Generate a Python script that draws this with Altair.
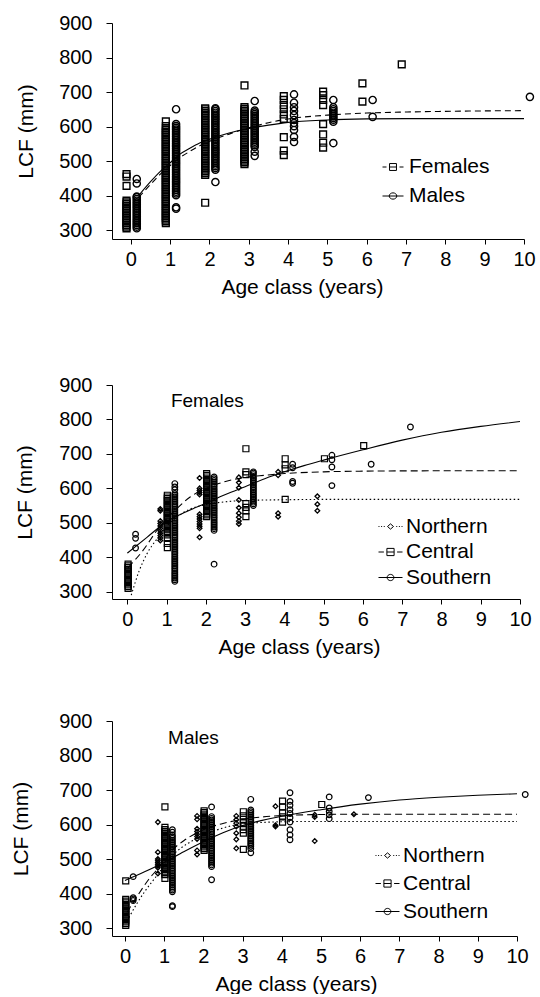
import altair as alt
import pandas as pd

FONT = "Liberation Sans"

# ---------------- Panel 1: LCF by age class, females vs males ----------------
sex_groups = ["Females", "Males"]
sex_offset = {"Females": -0.11, "Males": 0.15}

fem_pts = {
    0: [462, 455, 428, 305, 310, 315, 320, 325, 330, 335, 340, 345, 350, 355, 360, 365, 370, 375, 380, 385],
    1: [615, 601, 320, 325, 330, 335, 340, 345, 350, 355, 360, 365, 370, 375, 380, 385, 390, 395, 400, 405,
        410, 415, 420, 425, 430, 435, 440, 445, 450, 455, 460, 465, 470, 475, 480, 485, 490, 495, 500, 505,
        510, 515, 520, 525, 530, 535, 540, 545, 550, 555, 560, 565, 570, 575, 580, 585, 590, 595],
    2: [379, 460, 465, 470, 475, 480, 485, 490, 495, 500, 505, 510, 515, 520, 525, 530, 535, 540, 545, 550,
        555, 560, 565, 570, 575, 580, 585, 590, 595, 600, 605, 610, 615, 620, 625, 630, 635, 640, 645, 650, 653],
    3: [719, 491, 496, 501, 506, 511, 516, 521, 526, 531, 536, 541, 546, 551, 556, 561, 566, 571, 576, 581,
        586, 591, 596, 601, 606, 611, 616, 621, 626, 631, 636, 641, 646, 651, 656],
    4: [688, 677, 662, 650, 635, 622, 569, 530, 517],
    5: [701, 691, 677, 662, 607, 577, 553, 539],
    6: [725, 672],
    7: [780],
}
male_pts = {
    0: [448, 435, 305, 310, 315, 320, 325, 330, 335, 340, 345, 350, 355, 360, 365, 370, 375, 380, 385, 390, 395, 397],
    1: [650, 607, 366, 362, 401, 406, 411, 416, 421, 426, 431, 436, 441, 446, 451, 456, 461, 466, 471, 476,
        481, 486, 491, 496, 501, 506, 511, 516, 521, 526, 531, 536, 541, 546, 551, 556, 561, 566, 571, 576,
        581, 586, 591, 596, 601],
    2: [439, 475, 480, 485, 490, 495, 500, 505, 510, 515, 520, 525, 530, 535, 540, 545, 550, 555, 560, 565,
        570, 575, 580, 585, 590, 595, 600, 605, 610, 615, 620, 625, 630, 635, 640, 645, 650, 653],
    3: [674, 527, 515, 541, 546, 551, 556, 561, 566, 571, 576, 581, 586, 591, 596, 601, 606, 611, 616, 621,
        626, 631, 636, 641, 646],
    4: [693, 669, 656, 645, 633, 619, 610, 601, 590, 570, 555],
    5: [677, 656, 650, 645, 640, 635, 630, 625, 620, 614, 552],
    6: [677, 628],
    10: [686],
}
fem_curve_age = [0.2, 0.5, 0.75, 1, 1.25, 1.5, 1.75, 2, 2.5, 3, 3.5, 4, 5, 6, 7, 8, 10]
fem_curve_lcf = [395, 432, 462, 487, 510, 528, 544, 557, 578, 596, 611, 622, 633, 639, 642, 644, 646]
male_curve_age = [0.2, 0.5, 0.75, 1, 1.25, 1.5, 1.75, 2, 2.5, 3, 3.5, 4, 5, 6, 7, 10]
male_curve_lcf = [400, 440, 470, 495, 520, 537, 552, 563, 581, 594, 604, 612, 619, 622, 623, 623]

# ---------------- Panels 2 & 3: by region ----------------
reg_groups = ["Northern", "Central", "Southern"]
reg_offset = {"Northern": -0.16, "Central": 0.02, "Southern": 0.21}

# Females by region
fn_pts = {
    1: [540, 535, 505, 498, 491, 484, 477, 470, 463, 456, 449],
    2: [630, 600, 594, 588, 582, 525, 518, 511, 504, 497, 490, 484, 458],
    3: [632, 617, 602, 566, 544, 528, 516, 505, 497],
    4: [648, 638, 528, 518],
    5: [577, 554, 535],
}
fc_pts = {
    0: [310, 315, 320, 325, 330, 335, 340, 345, 350, 355, 360, 365, 370, 375, 380],
    1: [455, 440, 428, 465, 470, 475, 480, 485, 490, 495, 500, 505, 510, 515, 520, 525, 530, 535, 540, 545,
        550, 555, 560, 565, 570, 575, 580],
    2: [518, 523, 528, 533, 538, 543, 548, 553, 558, 563, 568, 573, 578, 583, 588, 593, 598, 603, 608, 613,
        618, 623, 628, 633, 638, 643],
    3: [715, 648, 640, 556, 545, 535, 518],
    4: [686, 668, 657, 568],
    5: [686],
    6: [724],
}
fs_pts = {
    0: [467, 455, 427],
    1: [614, 604, 596, 330, 335, 340, 345, 350, 355, 360, 365, 370, 375, 380, 385, 390, 395, 400, 405, 410,
        415, 420, 425, 430, 435, 440, 445, 450, 455, 460, 465, 470, 475, 480, 485, 490, 495, 500, 505, 510,
        515, 520, 525, 530, 535, 540, 545, 550, 555, 560, 565, 570, 575, 580, 585],
    2: [380, 478, 483, 488, 493, 498, 503, 508, 513, 518, 523, 528, 533, 538, 543, 548, 553, 558, 563, 568,
        573, 578, 583, 588, 593, 598, 603, 608, 613, 618, 623, 628, 633],
    3: [550, 555, 560, 565, 570, 575, 580, 585, 590, 595, 600, 605, 610, 615, 620, 625, 630, 635, 640, 645, 648],
    4: [670, 660, 620, 615],
    5: [696, 683, 662, 608],
    6: [670],
    7: [778],
}
fn_curve_age = [0.1, 0.3, 0.5, 0.8, 1.0, 1.3, 1.6, 2, 2.5, 3, 4, 5, 10]
fn_curve_lcf = [290, 360, 410, 460, 490, 520, 540, 553, 561, 565, 567, 568, 568]
fc_curve_age = [0.02, 0.4, 0.8, 1.25, 1.6, 2, 2.5, 3, 3.5, 4, 5, 6, 8, 10]
fc_curve_lcf = [370, 420, 485, 540, 575, 600, 620, 632, 638, 643, 648, 650, 651, 651]
fs_curve_age = [0, 0.5, 1, 1.5, 2, 2.5, 3, 3.5, 4, 4.5, 5, 6, 7, 8, 9, 10]
fs_curve_lcf = [412, 458, 503, 532, 557, 582, 605, 628, 648, 666, 682, 712, 740, 763, 780, 794]

# Males by region
mn_pts = {
    1: [607, 520, 500, 495, 490, 485, 480, 475, 458],
    2: [625, 615, 588, 580, 572, 565, 558, 525, 513],
    3: [625, 614, 604, 594, 575, 557, 531],
    4: [653, 598, 594],
    5: [628, 622, 552],
    6: [630],
}
mc_pts = {
    0: [437, 308, 313, 318, 323, 328, 333, 338, 343, 348, 353, 358, 363, 368, 373, 378, 383],
    1: [651, 592, 444, 455, 460, 465, 470, 475, 480, 485, 490, 495, 500, 505, 510, 515, 520, 525, 530, 535,
        540, 545, 550, 555, 560, 565, 570, 575, 580, 585],
    2: [525, 530, 535, 540, 545, 550, 555, 560, 565, 570, 575, 580, 585, 590, 595, 600, 605, 610, 615, 620,
        625, 630, 635, 640],
    3: [637, 625, 615, 605, 595, 585, 575, 528],
    4: [668, 651, 634, 622, 607],
    5: [658],
}
ms_pts = {
    0: [449, 388, 384, 380],
    1: [585, 578, 365, 362, 405, 410, 415, 420, 425, 430, 435, 440, 445, 450, 455, 460, 465, 470, 475, 480,
        485, 490, 495, 500, 505, 510, 515, 520, 525, 530, 535, 540, 545, 550, 555, 560, 565, 570],
    2: [651, 440, 478, 483, 488, 493, 498, 503, 508, 513, 518, 523, 528, 533, 538, 543, 548, 553, 558, 563,
        568, 573, 578, 583, 588, 593, 598, 603, 608, 613, 618, 623],
    3: [673, 530, 518, 537, 542, 547, 552, 557, 562, 567, 572, 577, 582, 587, 592, 597, 602, 607, 612, 617,
        622, 627, 632, 637, 642],
    4: [692, 667, 656, 643, 632, 620, 607, 585, 570, 556],
    5: [680, 648, 638, 628, 617],
    6: [678],
    10: [687],
}
mn_curve_age = [0.1, 0.3, 0.5, 0.8, 1.0, 1.3, 1.6, 2, 2.5, 3, 3.5, 4, 5, 10]
mn_curve_lcf = [330, 370, 405, 450, 480, 520, 545, 568, 590, 602, 606, 608, 609, 609]
mc_curve_age = [0.05, 0.3, 0.6, 0.9, 1.2, 1.5, 2, 2.5, 3, 3.5, 4, 5, 6, 10]
mc_curve_lcf = [345, 390, 440, 480, 525, 553, 585, 603, 615, 622, 626, 629, 630, 630]
ms_curve_age = [0, 0.5, 1, 1.5, 2, 2.5, 3, 3.5, 4, 5, 6, 7, 8, 9, 10]
ms_curve_lcf = [438, 463, 490, 521, 550, 576, 597, 612, 624, 643, 659, 671, 679, 685, 689]

x_ticks = [0, 1, 2, 3, 4, 5, 6, 7, 8, 9, 10]
y_ticks = [300, 400, 500, 600, 700, 800, 900]


def pts_frame(series, offsets):
    rows = []
    for g, byage in series.items():
        for age, vals in byage.items():
            for v in vals:
                rows.append({"g": g, "age": age, "x": age + offsets[g], "v": v})
    return pd.DataFrame(rows)


def curve_frame(curves):
    rows = []
    for g, (ages, vals) in curves.items():
        for a, v in zip(ages, vals):
            rows.append({"g": g, "x": a, "v": v})
    return pd.DataFrame(rows)


def make_panel(pts_df, crv_df, groups, styles, legend_paths, leg, xdom, ydom, w, h,
               label=None, ytitle_pad=18, xtitle_x=190):
    xs = alt.Scale(domain=xdom, nice=False, zero=False)
    ys = alt.Scale(domain=ydom, nice=False, zero=False)
    ax_common = dict(labelFont=FONT, titleFont=FONT, labelFontSize=20, titleFontSize=21,
                     titleFontWeight="normal", labelColor="black", titleColor="black",
                     domainColor="black", tickColor="black", grid=False,
                     labelFlush=False, labelOverlap=False, format="d")
    xenc = alt.X("x:Q", scale=xs, axis=alt.Axis(
        values=x_ticks, title="Age class (years)", tickSize=5, labelPadding=5,
        titlePadding=7, titleX=xtitle_x, **ax_common))
    yenc = alt.Y("v:Q", scale=ys, axis=alt.Axis(
        values=y_ticks, title="LCF (mm)", tickSize=6, labelPadding=14,
        titlePadding=ytitle_pad, **ax_common))
    layers = []
    for g in groups:
        st = styles[g]
        layers.append(
            alt.Chart(pts_df[pts_df.g == g]).mark_point(
                shape=st["shape"], size=st["size"], filled=False, color="black",
                strokeWidth=st["sw"], opacity=1).encode(x=xenc, y=yenc))
    for g in groups:
        st = styles[g]
        kw = dict(color="black", strokeWidth=1.1, interpolate="monotone")
        if st["dash"] is not None:
            kw["strokeDash"] = st["dash"]
        layers.append(alt.Chart(crv_df[crv_df.g == g]).mark_line(**kw).encode(x=xenc, y=yenc))
    if label is not None:
        lab_df = pd.DataFrame({"x": [label[0]], "v": [label[1]], "t": [label[2]]})
        layers.append(alt.Chart(lab_df).mark_text(
            align="left", baseline="middle", font=FONT, fontSize=19, color="black").encode(
            x=xenc, y=yenc, text="t:N"))
    leg_df = pd.DataFrame({"g": groups})
    layers.append(alt.Chart(leg_df).mark_point(filled=False, color="black", opacity=0).encode(
        x=alt.value(0), y=alt.value(0),
        shape=alt.Shape("g:N", scale=alt.Scale(domain=groups, range=legend_paths),
                        legend=alt.Legend(
                            title=None, orient="none", legendX=leg["x"], legendY=leg["y"],
                            direction="vertical", labelFont=FONT, labelFontSize=21,
                            labelColor="black", symbolSize=leg["size"], symbolStrokeWidth=1,
                            symbolStrokeColor="black", symbolFillColor="white",
                            symbolOpacity=1, labelOffset=leg["off"], rowPadding=leg["row"],
                            padding=0, labelLimit=0))))
    return alt.layer(*layers).properties(width=w, height=h)


# ----- panel 1 -----
p1_pts = pts_frame({"Females": fem_pts, "Males": male_pts}, sex_offset)
p1_crv = curve_frame({"Females": (fem_curve_age, fem_curve_lcf), "Males": (male_curve_age, male_curve_lcf)})
p1_styles = {
    "Females": {"shape": "square", "size": 46, "sw": 1.4, "dash": [6, 4]},
    "Males": {"shape": "circle", "size": 52, "sw": 1.4, "dash": None},
}
p1_paths = [
    "M-1,0H-0.62M-0.33,0H0.33M0.62,0H1M-0.33,-0.33H0.33V0.33H-0.33Z",
    "M-1,0H1M0.36,0A0.36,0.3 0 1,1 -0.36,0A0.36,0.3 0 1,1 0.36,0Z",
]
panel1 = make_panel(p1_pts, p1_crv, sex_groups, p1_styles, p1_paths,
                    {"x": 270, "y": 133, "size": 441, "off": 5, "row": 8},
                    [-0.48, 10], [274, 900], 412, 216, ytitle_pad=22)

# ----- panels 2, 3 -----
reg_styles = {
    "Northern": {"shape": "diamond", "size": 22, "sw": 1.3, "dash": [1.5, 2.5]},
    "Central": {"shape": "square", "size": 36, "sw": 1.2, "dash": [7, 4]},
    "Southern": {"shape": "circle", "size": 32, "sw": 1.2, "dash": None},
}
reg_paths = [
    "M-1,0H-0.92M-0.78,0H-0.7M-0.56,0H-0.48M0.48,0H0.56M0.7,0H0.78M0.92,0H1M0,-0.22L0.25,0L0,0.22L-0.25,0Z",
    "M-1,0H-0.55M0.55,0H1M-0.3,0H0.3M-0.3,-0.3H0.3V0.3H-0.3Z",
    "M-1,0H1M0.28,0A0.28,0.26 0 1,1 -0.28,0A0.28,0.26 0 1,1 0.28,0Z",
]
p2_pts = pts_frame({"Northern": fn_pts, "Central": fc_pts, "Southern": fs_pts}, reg_offset)
p2_crv = curve_frame({"Northern": (fn_curve_age, fn_curve_lcf), "Central": (fc_curve_age, fc_curve_lcf),
                      "Southern": (fs_curve_age, fs_curve_lcf)})
panel2 = make_panel(p2_pts, p2_crv, reg_groups, reg_styles, reg_paths,
                    {"x": 266, "y": 129, "size": 576, "off": 3, "row": 2.5},
                    [-0.39, 10], [279, 900], 408, 214, label=(1.11, 855, "Females"),
                    ytitle_pad=23, xtitle_x=187)

p3_pts = pts_frame({"Northern": mn_pts, "Central": mc_pts, "Southern": ms_pts}, reg_offset)
p3_crv = curve_frame({"Northern": (mn_curve_age, mn_curve_lcf), "Central": (mc_curve_age, mc_curve_lcf),
                      "Southern": (ms_curve_age, ms_curve_lcf)})
panel3 = make_panel(p3_pts, p3_crv, reg_groups, reg_styles, reg_paths,
                    {"x": 263, "y": 122, "size": 576, "off": 3, "row": 5},
                    [-0.33, 10], [277, 900], 405, 215, label=(1.10, 851, "Males"),
                    ytitle_pad=27, xtitle_x=184)

inner = alt.concat(panel2, panel3, columns=1, align="none", spacing=54).resolve_scale(
    x="independent", y="independent", shape="independent").resolve_legend(shape="independent")

chart = alt.concat(panel1, inner, columns=1, align="none", spacing=78).resolve_scale(
    x="independent", y="independent", shape="independent").resolve_legend(
    shape="independent").properties(
    padding={"left": 10, "top": 13, "right": 0, "bottom": 0},
    background="white",
).configure_view(stroke=None)

chart.save("out.html", embed_options={"renderer": "svg", "actions": False})
